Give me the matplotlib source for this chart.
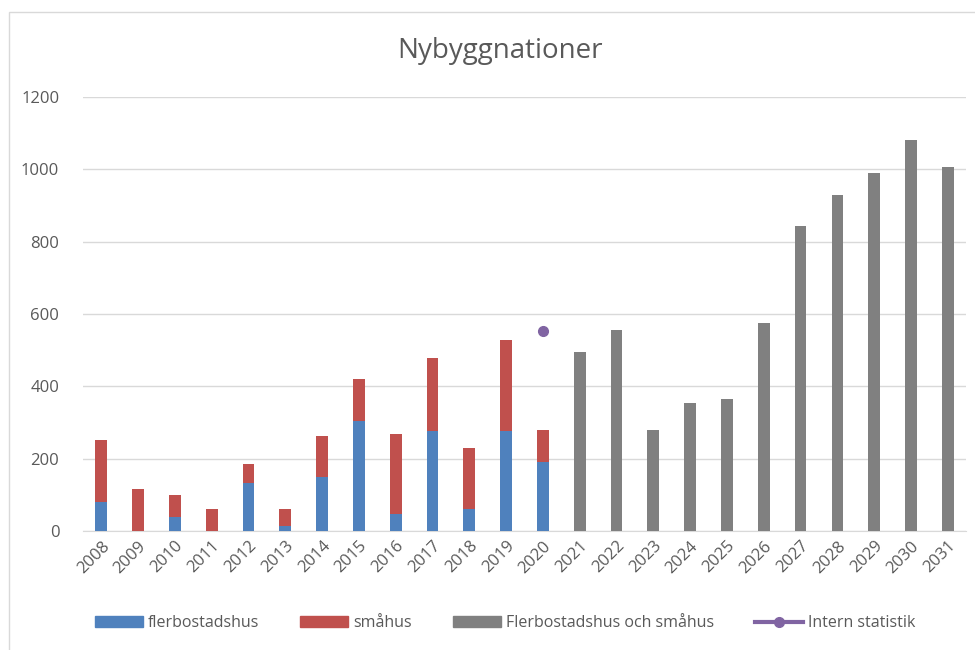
import matplotlib.pyplot as plt
import numpy as np
from matplotlib.patches import Rectangle
from matplotlib.lines import Line2D

plt.rcParams['font.family'] = ['Open Sans', 'DejaVu Sans']

# historik 2008-2020 (staplade), prognos 2021-2031
ar_historik = [str(a) for a in range(2008, 2021)]
ar_prognos = [str(a) for a in range(2021, 2032)]
flerbostadshus = [80, 0, 39, 0, 132, 15, 150, 304, 48, 276, 62, 276, 192]
smahus_totalt = [253, 117, 99, 62, 184, 62, 263, 421, 267, 477, 229, 528, 280]
smahus = [t - f for t, f in zip(smahus_totalt, flerbostadshus)]
prognos_totalt = [495, 556, 280, 355, 364, 574, 844, 928, 990, 1081, 1007]
intern_ar = ['2020']
intern_statistik = [553]

alla_ar = ar_historik + ar_prognos
x = np.arange(len(alla_ar))
x_hist = x[:len(ar_historik)]
x_prog = x[len(ar_historik):]
x_intern = [alla_ar.index(a) for a in intern_ar]

blue = '#4F81BD'
red = '#C0504D'
gray = '#808080'
purple = '#8064A2'
textcol = '#595959'

fig = plt.figure(figsize=(9.75, 6.5), dpi=100)
ax = fig.add_axes([0.085, 0.183, 0.906, 0.668])

w = 0.32
ax.bar(x_hist, flerbostadshus, w, color=blue, zorder=3)
ax.bar(x_hist, smahus, w, bottom=flerbostadshus, color=red, zorder=3)
ax.bar(x_prog, prognos_totalt, w, color=gray, zorder=3)
ax.plot(x_intern, intern_statistik, 'o', color=purple, markersize=7, zorder=4)

ax.set_xlim(-0.5, len(alla_ar) - 0.5)
ax.set_ylim(0, 1200)
ax.set_yticks(range(0, 1201, 200))
ax.set_xticks(x)
ax.set_xticklabels(alla_ar, rotation=45, ha='right', rotation_mode='anchor')
ax.tick_params(axis='both', length=0, colors=textcol, labelsize=12)
ax.tick_params(axis='y', pad=17)
ax.tick_params(axis='x', pad=5)
ax.grid(axis='y', color='#D9D9D9', linewidth=1, zorder=0)
for s in ['top', 'right', 'left']:
    ax.spines[s].set_visible(False)
ax.spines['bottom'].set_color('#D9D9D9')

fig.text(0.513, 0.922, 'Nybyggnationer', ha='center', va='center',
         fontsize=20, color=textcol)

handles = [
    Rectangle((0, 0), 1, 1, color=blue),
    Rectangle((0, 0), 1, 1, color=red),
    Rectangle((0, 0), 1, 1, color=gray),
    Line2D([], [], color=purple, marker='o', linewidth=3, markersize=7),
]
labels = ['flerbostadshus', 'småhus', 'Flerbostadshus och småhus', 'Intern statistik']
fig.legend(handles, labels, loc='center', bbox_to_anchor=(0.518, 0.041), ncol=4,
           frameon=False, fontsize=11.5, labelcolor=textcol, handlelength=3.0,
           handleheight=0.7, handletextpad=0.3, columnspacing=2.6)

# ram runt diagrammet
fig.patches.append(Rectangle((9 / 975, -0.1), 1.2, 1 - 12 / 650 + 0.1,
                             transform=fig.transFigure, fill=False,
                             edgecolor='#D9D9D9', linewidth=1))

fig.savefig('out.png', dpi=100)
